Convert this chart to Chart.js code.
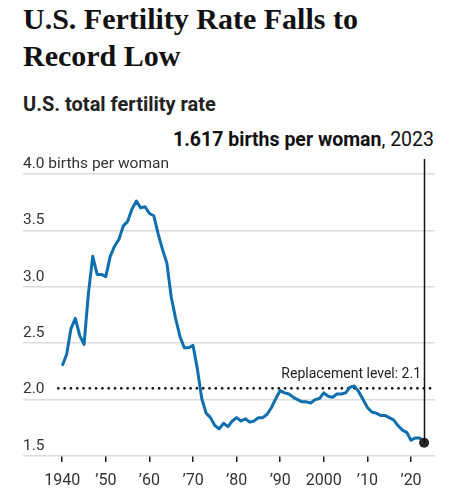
<!DOCTYPE html>
<html>
<head>
<meta charset="utf-8">
<script src="https://cdn.jsdelivr.net/npm/chart.js@4.4.1/dist/chart.umd.min.js"></script>
<style>
  body { margin: 0; background: #fff; width: 459px; height: 500px; position: relative; overflow: hidden; }
  .title { position: absolute; left: 23px; top: 0px; font: bold 30px/37px "Liberation Serif", serif; color: #111; }
  .subtitle { position: absolute; left: 23px; top: 92px; font: bold 20px/24px Roboto, sans-serif; color: #222; }
  .note { position: absolute; right: 25px; top: 128px; font: 19.5px/24px Roboto, sans-serif; color: #111; white-space: nowrap; }
  .note b { font-weight: bold; }
  #wrap { position: absolute; left: 0; top: 150px; width: 459px; height: 350px; }
</style>
</head>
<body>
<div class="title">U.S. Fertility Rate Falls to<br>Record Low</div>
<div class="subtitle">U.S. total fertility rate</div>
<div class="note"><b>1.617 births per woman</b>, 2023</div>
<div id="wrap"><canvas id="grafica"></canvas></div>
<script>
const years = [];
for (let y = 1940; y <= 2023; y++) years.push(y);

const fertility = [
  2.30, 2.40, 2.63, 2.72, 2.57, 2.49, 2.94, 3.27, 3.11, 3.11,
  3.09, 3.27, 3.36, 3.42, 3.54, 3.58, 3.69, 3.76, 3.70, 3.71,
  3.65, 3.63, 3.47, 3.33, 3.21, 2.91, 2.72, 2.56, 2.46, 2.46,
  2.48, 2.27, 2.01, 1.88, 1.84, 1.77, 1.74, 1.79, 1.76, 1.81,
  1.84, 1.81, 1.83, 1.80, 1.81, 1.84, 1.84, 1.87, 1.93, 2.01,
  2.08, 2.06, 2.05, 2.02, 2.00, 1.98, 1.98, 1.97, 2.00, 2.01,
  2.06, 2.03, 2.02, 2.05, 2.05, 2.06, 2.11, 2.12, 2.07, 2.00,
  1.93, 1.89, 1.88, 1.86, 1.86, 1.84, 1.82, 1.77, 1.73, 1.71,
  1.64, 1.66, 1.66, 1.617
];

const replacementLevel = 2.1;
const replacementSpan = [1939.1, 2024.6];
const latestYear = 2023;
const latestValue = 1.617;

const xTicks = [1940, 1950, 1960, 1970, 1980, 1990, 2000, 2010, 2020];
const xTickLabels = ['1940', '\u201950', '\u201960', '\u201970', '\u201980', '\u201990', '2000', '\u201910', '\u201920'];
const yTicks = [1.5, 2.0, 2.5, 3.0, 3.5, 4.0];
const yTickLabels = ['1.5', '2.0', '2.5', '3.0', '3.5', '4.0 births per woman'];

const blue = '#0f6fae';

const graph = document.querySelector('#grafica');

// text + vertical marker line for the latest value
const extras = {
  id: 'extras',
  afterDatasetsDraw(chart) {
    const { ctx, scales: { x, y }, chartArea } = chart;
    ctx.save();
    ctx.font = '14px Roboto, sans-serif';
    ctx.fillStyle = '#222';
    ctx.textAlign = 'right';
    ctx.textBaseline = 'alphabetic';
    ctx.fillText('Replacement level: ' + replacementLevel, x.getPixelForValue(2022.3), y.getPixelForValue(replacementLevel) - 10);

    const lx = Math.round(x.getPixelForValue(latestYear)) + 0.5;
    ctx.strokeStyle = '#111';
    ctx.lineWidth = 1.5;
    ctx.beginPath();
    ctx.moveTo(lx, chartArea.top - 15);
    ctx.lineTo(lx, y.getPixelForValue(latestValue));
    ctx.stroke();
    ctx.restore();
  }
};

const data = {
  datasets: [
    {
      data: years.map((yr, i) => ({ x: yr, y: fertility[i] })),
      borderColor: blue,
      borderWidth: 3,
      pointRadius: 0,
      tension: 0,
      borderJoinStyle: 'round',
      order: 1,
    },
    {
      data: replacementSpan.map(yr => ({ x: yr, y: replacementLevel })),
      borderColor: '#111',
      borderWidth: 2.8,
      borderDash: [0, 6.3],
      borderCapStyle: 'round',
      pointRadius: 0,
      order: 2,
    },
    {
      data: [{ x: latestYear, y: latestValue }],
      showLine: false,
      pointRadius: 5,
      pointBackgroundColor: '#262626',
      pointBorderWidth: 0,
      order: 0,
    }
  ]
};

const config = {
  type: 'line',
  data: data,
  plugins: [extras],
  options: {
    responsive: true,
    maintainAspectRatio: false,
    animation: false,
    layout: { padding: { top: 24, left: 23, right: 24, bottom: 0 } },
    plugins: { legend: { display: false }, tooltip: { enabled: false } },
    scales: {
      x: {
        type: 'linear',
        min: 1931,
        max: 2025.5,
        afterBuildTicks: axis => { axis.ticks = xTicks.map(v => ({ value: v })); },
        afterFit: axis => { axis.height = 44; },
        grid: { drawOnChartArea: false, drawTicks: true, tickLength: 6, color: '#222', lineWidth: 1.5 },
        border: { display: false },
        ticks: {
          padding: 9,
          maxRotation: 0,
          autoSkip: false,
          color: '#333',
          font: { family: 'Roboto', size: 16 },
          callback: v => xTickLabels[xTicks.indexOf(v)]
        }
      },
      y: {
        min: 1.5,
        max: 4.0,
        afterBuildTicks: axis => { axis.ticks = yTicks.map(v => ({ value: v })); },
        grid: { drawTicks: false, color: '#dcdcdc', lineWidth: 1.5 },
        border: { display: false },
        ticks: {
          mirror: true,
          padding: 0,
          labelOffset: -10,
          color: '#333',
          font: { family: 'Roboto', size: 15.5 },
          callback: v => yTickLabels[yTicks.indexOf(v)]
        }
      }
    }
  }
};

const myChart = new Chart(graph, config);
</script>
</body>
</html>
